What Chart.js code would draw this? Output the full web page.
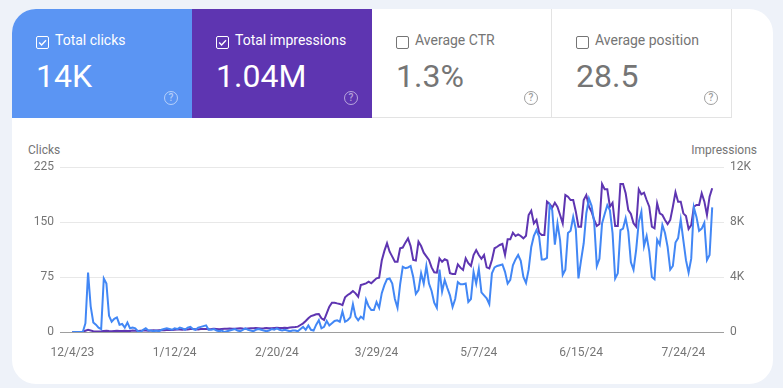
<!DOCTYPE html>
<html>
<head>
<meta charset="utf-8">
<title>Performance</title>
<script src="https://cdn.jsdelivr.net/npm/chart.js@4.4.1/dist/chart.umd.min.js"></script>
<style>
    html, body { margin: 0; padding: 0; }
    body {
        width: 783px; height: 388px; position: relative; overflow: hidden;
        background: #eef2f9; font-family: Roboto, "Noto Sans", sans-serif;
    }
    .panel {
        position: absolute; left: 12px; top: 9px; width: 761px; height: 375px;
        background: #fff; border-radius: 24px; overflow: hidden;
    }
    .metric {
        position: absolute; top: 0; width: 180px; height: 109px; box-sizing: border-box;
    }
    .metric.clicks { left: 0; background: #5b95f3; color: #fff; }
    .metric.impr { left: 180px; background: #5e35b1; color: #fff; }
    .metric.ctr { left: 360px; }
    .metric.pos { left: 540px; }
    .metric.off { color: #757575; border-right: 1px solid #e3e3e3; border-bottom: 1px solid #e3e3e3; }
    .box {
        position: absolute; left: 24px; top: 27px; width: 13px; height: 13px; box-sizing: border-box;
        border: 1.5px solid currentColor; border-radius: 2px;
    }
    .box svg { position: absolute; left: -1.5px; top: -1.5px; }
    .label { position: absolute; left: 43px; top: 23px; font-size: 14px; line-height: 16px; white-space: nowrap; }
    .value { position: absolute; left: 24px; top: 51px; font-size: 32px; line-height: 32px; }
    .help {
        position: absolute; left: 152px; top: 82px; width: 14px; height: 14px; box-sizing: border-box;
        border: 1.3px solid; border-radius: 50%; font-size: 10px; line-height: 11px; text-align: center; font-weight: 500;
    }
    .metric.clicks .help, .metric.impr .help { color: rgba(255,255,255,0.55); }
    .metric.off .help { color: #9e9e9e; }
    .axis-title { position: absolute; top: 143px; font-size: 12px; line-height: 14px; color: #757575; }
    #chartCanvas { position: absolute; left: 0; top: 118px; }
</style>
</head>
<body>
<div class="panel">
    <div class="metric clicks">
        <div class="box"><svg width="13" height="13"><path d="M3.2 6.6 L5.6 9 L10 4.3" fill="none" stroke="#fff" stroke-width="1.4"/></svg></div>
        <div class="label">Total clicks</div>
        <div class="value">14K</div>
        <div class="help">?</div>
    </div>
    <div class="metric impr">
        <div class="box"><svg width="13" height="13"><path d="M3.2 6.6 L5.6 9 L10 4.3" fill="none" stroke="#fff" stroke-width="1.4"/></svg></div>
        <div class="label">Total impressions</div>
        <div class="value">1.04M</div>
        <div class="help">?</div>
    </div>
    <div class="metric ctr off">
        <div class="box"></div>
        <div class="label">Average CTR</div>
        <div class="value">1.3%</div>
        <div class="help">?</div>
    </div>
    <div class="metric pos off">
        <div class="box"></div>
        <div class="label">Average position</div>
        <div class="value">28.5</div>
        <div class="help">?</div>
    </div>
</div>
<div class="axis-title" style="left:28px;">Clicks</div>
<div class="axis-title" style="right:26px;">Impressions</div>
<canvas id="chartCanvas" width="783" height="250"></canvas>

<script>
// daily values, starting 12/4/23
const clicks = [
    0, 0, 0, 0, 0, 12, 81, 35, 13, 10,
    6, 4, 73, 66, 22, 14, 18, 20, 10, 11,
    6, 13, 5, 6, 5, 1, 0, 3, 5, 2,
    2, 1, 2, 1, 3, 4, 5, 4, 3, 5,
    4, 6, 5, 3, 6, 7, 4, 3, 6, 7,
    8, 9, 3, 3, 4, 2, 1, 2, 0, 1,
    2, 3, 4, 2, 1, 3, 5, 3, 2, 1,
    3, 4, 3, 2, 1, 2, 4, 3, 5, 3,
    2, 3, 2, 1, 2, 2, 1, 4, 7, 3,
    9, 3, 2, 10, 16, 5, 7, 15, 9, 12,
    15, 16, 14, 28, 14, 16, 20, 38, 21, 16,
    21, 18, 44, 35, 30, 30, 41, 33, 53, 64,
    72, 73, 66, 45, 33, 65, 89, 87, 88, 90,
    75, 52, 57, 80, 66, 90, 66, 56, 40, 33,
    85, 55, 71, 60, 50, 34, 45, 68, 65, 65,
    66, 41, 45, 82, 66, 86, 54, 50, 46, 38,
    80, 88, 90, 91, 92, 82, 66, 71, 91, 99,
    105, 97, 75, 67, 85, 116, 131, 139, 130, 99,
    99, 101, 173, 166, 119, 148, 125, 78, 85, 135,
    138, 157, 140, 73, 98, 121, 162, 182, 172, 150,
    90, 100, 148, 161, 173, 166, 135, 73, 80, 139,
    141, 155, 137, 95, 85, 112, 150, 164, 117, 131,
    110, 75, 72, 126, 119, 146, 135, 116, 85, 90,
    122, 128, 153, 125, 98, 81, 100, 170, 157, 138,
    141, 149, 98, 105, 170
];

const impressions = [
    0, 0, 0, 0, 20, 90, 160, 110, 60, 40,
    40, 50, 80, 90, 70, 60, 80, 90, 70, 80,
    90, 80, 70, 100, 90, 80, 90, 100, 110, 100,
    110, 120, 110, 130, 140, 130, 150, 160, 150, 170,
    180, 190, 170, 200, 190, 210, 210, 200, 190, 210,
    220, 210, 200, 210, 230, 220, 200, 220, 240, 230,
    250, 240, 230, 260, 270, 250, 240, 260, 280, 270,
    290, 280, 260, 270, 290, 280, 270, 290, 300, 290,
    290, 310, 300, 320, 340, 360, 390, 510, 630, 800,
    1000, 1160, 1220, 1290, 1310, 1000, 870, 1360, 1840, 2130,
    2130, 2080, 2040, 1960, 2520, 2690, 2810, 2980, 2810, 2570,
    3420, 3470, 3540, 3660, 3540, 3730, 3900, 3950, 5200, 5900,
    6450, 5840, 5480, 5110, 5110, 6090, 6140, 6500, 6810, 6250,
    5240, 5200, 6570, 6250, 5770, 5500, 5240, 4700, 4340, 4320,
    5360, 5110, 5290, 5200, 4270, 4220, 4220, 4920, 4680, 4510,
    5360, 5000, 4800, 5600, 5960, 5600, 5330, 5600, 4700, 4630,
    5240, 6090, 6200, 6330, 6410, 5600, 6740, 6740, 7220, 6980,
    7100, 6980, 6810, 7000, 8510, 8820, 7900, 8150, 7220, 7050,
    7050, 9480, 9310, 9040, 9400, 9100, 8510, 7900, 9960, 9840,
    9600, 9600, 8750, 7660, 7660, 9600, 9960, 9110, 8750, 8150,
    7710, 7850, 10760, 10380, 10380, 9110, 9400, 7710, 7710, 10760,
    10760, 10090, 8870, 8580, 7900, 7660, 10380, 10010, 10130, 9600,
    9110, 7660, 7540, 9360, 8630, 8510, 8150, 7850, 8150, 9110,
    10160, 9480, 9480, 8630, 8440, 7490, 7780, 9110, 9240, 9240,
    10090, 9500, 8510, 9840, 10450
];

const tickLabels = ['12/4/23', '1/12/24', '2/20/24', '3/29/24', '5/7/24', '6/15/24', '7/24/24'];
const clickTicks = [0, 75, 150, 225];
const impressionTicks = [0, 4000, 8000, 12000];

const PerformanceChart = (() => {
    const grey = '#757575';

    // one label per day, M/D/YY
    const dates = clicks.map((_, i) => {
        const d = new Date(2023, 11, 4 + i);
        return (d.getMonth() + 1) + '/' + d.getDate() + '/' + String(d.getFullYear()).slice(2);
    });
    const tickDays = tickLabels.map(t => dates.indexOf(t));

    function render() {
        Chart.defaults.font.family = 'Roboto, "Noto Sans", sans-serif';
        Chart.defaults.font.size = 12;

        const ctx = document.getElementById('chartCanvas').getContext('2d');
        return new Chart(ctx, {
            type: 'line',
            data: {
                datasets: [{
                    label: 'Clicks',
                    data: clicks.map((v, i) => ({ x: i, y: v })),
                    yAxisID: 'y',
                    borderColor: '#4287f5',
                    borderWidth: 2,
                    pointRadius: 0,
                    tension: 0
                }, {
                    label: 'Impressions',
                    data: impressions.map((v, i) => ({ x: i, y: v })),
                    yAxisID: 'y1',
                    borderColor: '#5e35b1',
                    borderWidth: 2,
                    pointRadius: 0,
                    tension: 0
                }]
            },
            options: {
                responsive: false,
                animation: false,
                layout: { padding: { top: 49, left: 0, right: 0, bottom: 0 } },
                plugins: { legend: { display: false }, tooltip: { enabled: false } },
                scales: {
                    x: {
                        type: 'linear',
                        min: -4.7,
                        max: 248.5,
                        grid: { display: false, drawTicks: false },
                        border: { display: false },
                        afterBuildTicks: axis => { axis.ticks = tickDays.map(v => ({ value: v })); },
                        afterFit: axis => { axis.height = 36; },
                        ticks: {
                            color: grey,
                            padding: 14,
                            maxRotation: 0,
                            autoSkip: false,
                            callback: v => dates[v]
                        }
                    },
                    y: {
                        position: 'left',
                        min: 0,
                        max: 225,
                        afterBuildTicks: axis => { axis.ticks = clickTicks.map(v => ({ value: v })); },
                        afterFit: axis => { axis.width = 60; },
                        grid: {
                            drawTicks: false,
                            color: c => (c.tick && c.tick.value === 0) ? '#9e9e9e' : '#e8e8e8'
                        },
                        border: { display: false },
                        ticks: { color: grey, padding: 6 }
                    },
                    y1: {
                        position: 'right',
                        min: 0,
                        max: 12000,
                        afterBuildTicks: axis => { axis.ticks = impressionTicks.map(v => ({ value: v })); },
                        afterFit: axis => { axis.width = 59; },
                        grid: { display: false, drawTicks: false },
                        border: { display: false },
                        ticks: {
                            color: grey,
                            padding: 6,
                            callback: v => v === 0 ? '0' : (v / 1000) + 'K'
                        }
                    }
                }
            }
        });
    }

    return { render };
})();

PerformanceChart.render();
</script>
</body>
</html>
